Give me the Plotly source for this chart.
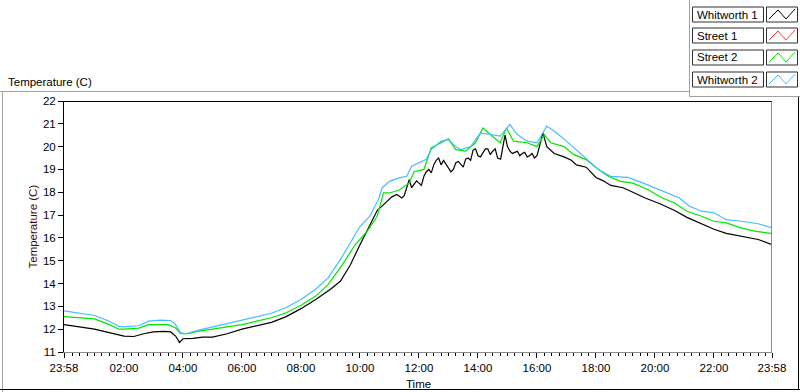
import plotly.graph_objects as go
from datetime import datetime, timedelta

# ---------------- data ----------------
START = "23:58"
series_names = ["Whitworth 1", "Street 1", "Street 2", "Whitworth 2"]
series_colors = ["#000000", "#ff3c3c", "#00e600", "#46bcff"]

w1_times = ["23:58", "00:30", "01:00", "01:30", "02:00", "02:20", "02:40", "03:00", "03:20", "03:35",
            "03:45", "03:53", "04:00", "04:20", "04:40", "05:00", "05:30", "06:00", "06:30", "07:00",
            "07:30", "08:00", "08:30", "09:00", "09:20", "09:40", "10:00", "10:20", "10:35", "10:55",
            "11:05", "11:15", "11:25", "11:30", "11:40", "11:45", "11:55", "12:00", "12:05", "12:10",
            "12:15", "12:20", "12:25", "12:30", "12:35", "12:40", "12:45", "12:50", "12:58", "13:05",
            "13:10", "13:15", "13:20", "13:25", "13:30", "13:35", "13:40", "13:45", "13:50", "13:55",
            "14:00", "14:05", "14:10", "14:15", "14:20", "14:25", "14:30", "14:35", "14:40", "14:46",
            "14:55", "15:00", "15:05", "15:10", "15:15", "15:20", "15:25", "15:30", "15:35", "15:40",
            "15:45", "15:50", "15:55", "16:00", "16:05", "16:12", "16:20", "16:35", "16:55", "17:10",
            "17:20", "17:40", "18:00", "18:15", "18:30", "18:55", "19:15", "19:40", "20:10", "20:40",
            "21:05", "21:35", "22:00", "22:25", "22:55", "23:30", "23:58"]
w1_temps = [12.2, 12.1, 12.0, 11.85, 11.7, 11.68, 11.8, 11.88, 11.9, 11.88,
            11.7, 11.42, 11.58, 11.6, 11.65, 11.65, 11.8, 12.0, 12.15, 12.3,
            12.55, 12.9, 13.3, 13.75, 14.1, 14.8, 15.7, 16.6, 17.2, 17.6,
            17.8, 17.9, 17.75, 17.85, 18.55, 18.2, 18.5, 18.4, 18.3, 18.7,
            18.9, 19.0, 18.85, 19.2, 19.4, 19.5, 19.2, 19.4, 19.1, 18.9,
            19.0, 19.3, 19.35, 19.2, 19.1, 19.45, 19.5, 19.4, 19.85, 19.9,
            19.6, 19.55, 19.75, 19.9, 19.9, 19.65, 19.8, 19.9, 19.5, 19.45,
            20.5, 20.0, 19.8, 19.7, 19.75, 19.8, 19.6, 19.7, 19.75, 19.55,
            19.6, 19.7, 19.5, 19.6, 20.0, 20.6, 20.0, 19.7, 19.55, 19.4,
            19.2, 19.1, 18.65, 18.5, 18.3, 18.2, 18.0, 17.75, 17.5, 17.2,
            16.9, 16.63, 16.38, 16.2, 16.07, 15.93, 15.7]

s1_times = []   # Street 1: no visible trace in the picture
s1_temps = []

s2_times = ["23:58", "00:30", "01:00", "01:30", "01:50", "02:00", "02:30", "02:50", "03:30", "03:45",
            "03:55", "04:10", "04:30", "05:00", "05:30", "06:00", "06:30", "07:00", "07:30", "08:00",
            "08:30", "08:55", "09:25", "09:50", "10:15", "10:35", "10:48", "11:00", "11:20", "11:40",
            "11:50", "12:10", "12:25", "12:45", "13:00", "13:15", "13:35", "13:55", "14:10", "14:25",
            "14:45", "14:58", "15:12", "15:40", "16:00", "16:15", "16:28", "16:55", "17:15", "17:40",
            "18:05", "18:25", "18:50", "19:15", "19:45", "20:15", "20:40", "21:05", "21:35", "22:00",
            "22:25", "22:55", "23:25", "23:58"]
s2_temps = [12.55, 12.5, 12.45, 12.2, 12.0, 12.0, 12.05, 12.2, 12.2, 12.05,
            11.8, 11.8, 11.9, 12.0, 12.1, 12.2, 12.35, 12.5, 12.72, 13.05,
            13.45, 13.95, 14.85, 15.7, 16.3, 16.95, 17.97, 17.97, 18.1, 18.4,
            18.9, 19.0, 19.95, 20.17, 20.34, 19.87, 19.8, 20.17, 20.82, 20.53,
            20.17, 20.82, 20.24, 20.17, 20.0, 20.53, 20.17, 20.0, 19.65, 19.43,
            19.0, 18.7, 18.48, 18.4, 18.12, 17.75, 17.53, 17.17, 16.95, 16.73,
            16.66, 16.44, 16.29, 16.19]

w2_times = ["23:58", "00:30", "01:00", "01:30", "01:50", "02:00", "02:30", "02:50", "03:15", "03:35",
            "03:45", "03:55", "04:05", "04:30", "05:00", "05:30", "06:00", "06:30", "07:00", "07:30",
            "08:00", "08:30", "08:55", "09:20", "09:40", "10:00", "10:20", "10:38", "10:45", "11:00",
            "11:20", "11:35", "11:45", "12:00", "12:15", "12:25", "12:45", "13:00", "13:15", "13:25",
            "13:45", "14:05", "14:25", "14:45", "15:05", "15:20", "15:40", "16:00", "16:20", "16:40",
            "17:00", "17:20", "17:40", "18:05", "18:30", "19:05", "19:35", "20:05", "20:30", "20:50",
            "21:10", "21:35", "22:00", "22:25", "22:55", "23:30", "23:58"]
w2_temps = [12.8, 12.7, 12.6, 12.35, 12.12, 12.1, 12.15, 12.35, 12.4, 12.38,
            12.2, 11.85, 11.8, 11.95, 12.1, 12.25, 12.4, 12.55, 12.7, 12.95,
            13.3, 13.75, 14.25, 15.05, 15.78, 16.5, 16.95, 17.7, 18.2, 18.48,
            18.63, 18.7, 19.14, 19.3, 19.45, 19.87, 20.24, 20.31, 20.0, 19.87,
            20.0, 20.6, 20.53, 20.46, 20.97, 20.53, 20.24, 20.17, 20.9, 20.6,
            20.24, 19.87, 19.5, 19.0, 18.7, 18.65, 18.41, 18.15, 17.9, 17.75,
            17.39, 17.17, 17.1, 16.8, 16.73, 16.62, 16.44]

x_tick_labels = ["23:58", "02:00", "04:00", "06:00", "08:00", "10:00", "12:00",
                 "14:00", "16:00", "18:00", "20:00", "22:00", "23:58"]
y_tick_vals = [11, 12, 13, 14, 15, 16, 17, 18, 19, 20, 21, 22]

# ---------------- helpers ----------------
DAY0 = datetime(2014, 3, 1)


def to_dt(times):
    out = []
    for i, t in enumerate(times):
        h, m = map(int, t.split(":"))
        day = 0 if (i == 0 and t == START) else 1
        out.append(DAY0 + timedelta(days=day, hours=h, minutes=m))
    return out


tick_dts = to_dt(x_tick_labels)

W, H = 800, 392
L, R, T, B = 64, 28, 101, 40
PW, PH = W - L - R, H - T - B


def px(x):
    return (x - L) / PW


def py(y):
    return (H - B - y) / PH


FONT = "Liberation Sans"

fig = go.Figure()
all_times = [w1_times, s1_times, s2_times, w2_times]
all_temps = [w1_temps, s1_temps, s2_temps, w2_temps]
for name, col, tt, vv in zip(series_names, series_colors, all_times, all_temps):
    fig.add_trace(go.Scatter(x=to_dt(tt), y=vv, mode="lines", name=name,
                             line=dict(color=col, width=1.2), showlegend=False))

fig.update_layout(
    width=W, height=H,
    margin=dict(l=L, r=R, t=T, b=B),
    paper_bgcolor="white", plot_bgcolor="white",
    font=dict(family=FONT, size=11.5, color="black"),
    showlegend=False,
)
fig.update_xaxes(
    range=[tick_dts[0], tick_dts[-1]],
    tickmode="array", tickvals=tick_dts, ticktext=x_tick_labels,
    ticks="outside", ticklen=5, tickcolor="black", tickwidth=1,
    showgrid=False, zeroline=False,
    showline=True, linecolor="#8c8c8c", linewidth=1,
    minor=dict(ticks="outside", ticklen=3, tickcolor="black", dtick=15 * 60 * 1000,
               tick0=DAY0, showgrid=False),
    tickfont=dict(size=11.5, family=FONT),
)
fig.update_yaxes(
    range=[11, 22], tickmode="array", tickvals=y_tick_vals,
    ticks="outside", ticklen=5, tickcolor="black",
    showgrid=False, zeroline=False,
    showline=True, linecolor="black", linewidth=1,
    tickfont=dict(size=11.5, family=FONT),
)

shapes = []


def line(x0, y0, x1, y1, color, width=1):
    shapes.append(dict(type="line", xref="paper", yref="paper",
                       x0=px(x0), y0=py(y0), x1=px(x1), y1=py(y1),
                       line=dict(color=color, width=width), layer="above"))


# plot frame: top dark, right grey
line(64, 101.5, 772, 101.5, "black")
line(771.5, 101.5, 771.5, 352, "#8c8c8c")
# outer panel frame
line(0, 91.5, 689.5, 91.5, "#a0a0a0")
line(2.5, 91.5, 2.5, 392, "#a0a0a0")
line(0, 389.5, 800, 389.5, "black")
line(798.5, 97, 798.5, 390, "black")
# legend panel frame
line(689.5, 0, 689.5, 96.5, "#a0a0a0")
line(689.5, 96.5, 800, 96.5, "#a0a0a0")

annotations = []
# legend: boxes with names and zig-zag glyphs
row_tops = [7, 28, 50, 72]
for name, col, top in zip(series_names, series_colors, row_tops):
    bot = top + 15
    shapes.append(dict(type="rect", xref="paper", yref="paper",
                       x0=px(692.5), x1=px(763.5), y0=py(bot), y1=py(top),
                       line=dict(color="#303030", width=1), fillcolor="white", layer="above"))
    shapes.append(dict(type="rect", xref="paper", yref="paper",
                       x0=px(766.5), x1=px(797.5), y0=py(bot), y1=py(top),
                       line=dict(color="#303030", width=1), fillcolor="white", layer="above"))
    pts = [(769, bot - 3), (778, top + 3), (786, bot - 3), (795, top + 2)]
    path = "M " + " L ".join(f"{px(a)},{py(b)}" for a, b in pts)
    shapes.append(dict(type="path", xref="paper", yref="paper", path=path,
                       line=dict(color=col, width=1), layer="above"))
    annotations.append(dict(text=name, xref="paper", yref="paper",
                            x=px(694.5), y=py((top + bot) / 2), xanchor="left", yanchor="middle",
                            showarrow=False, font=dict(size=11.5, family=FONT, color="black")))

annotations += [
    dict(text="Temperature (C)", xref="paper", yref="paper", x=px(6), y=py(82),
         xanchor="left", yanchor="middle", showarrow=False,
         font=dict(size=11.5, family=FONT, color="black")),
    dict(text="Temperature (C)", xref="paper", yref="paper", x=px(32), y=py(226.5),
         xanchor="center", yanchor="middle", textangle=-90, showarrow=False,
         font=dict(size=11.5, family=FONT, color="#4a0a0a")),
    dict(text="Time", xref="paper", yref="paper", x=px(418), y=py(384),
         xanchor="center", yanchor="middle", showarrow=False,
         font=dict(size=11.5, family=FONT, color="black")),
]

fig.update_layout(shapes=shapes, annotations=annotations)
fig.write_html("out.html", config={"displayModeBar": False},
               post_script="document.body.style.margin='0';document.body.style.overflow='hidden';")
